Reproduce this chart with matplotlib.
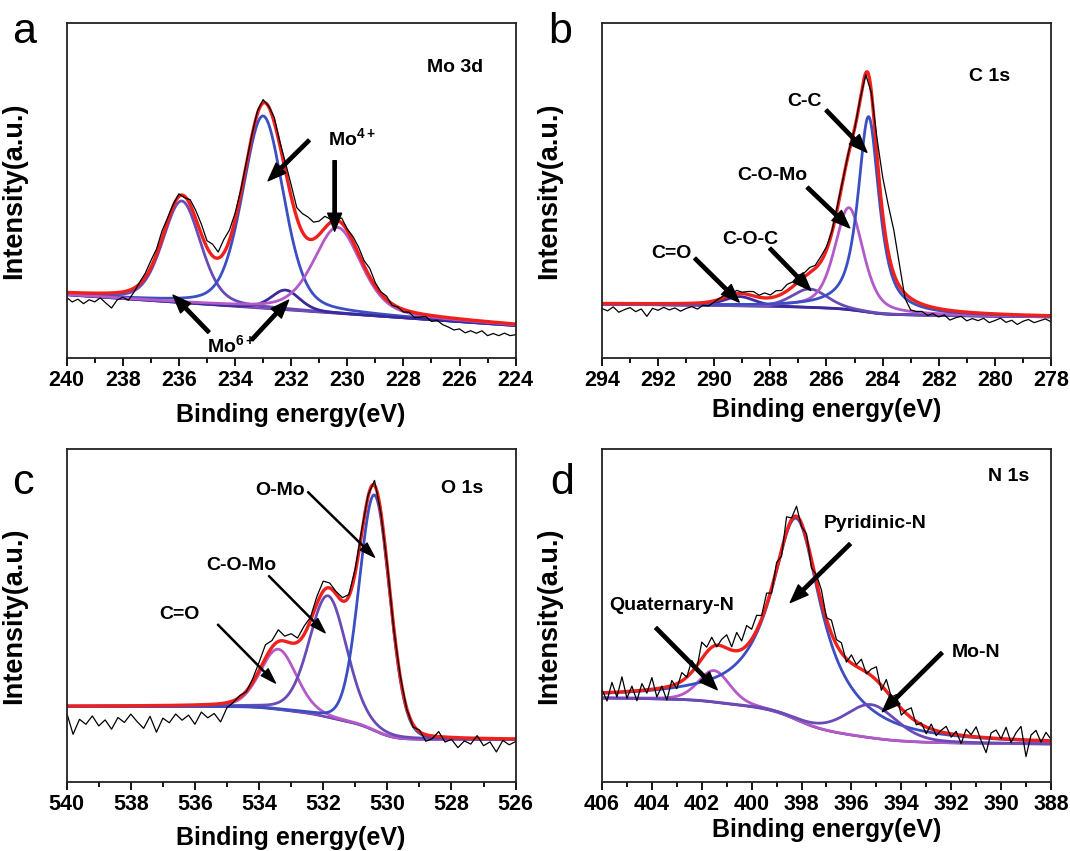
import numpy as np
import matplotlib
matplotlib.use('Agg')
import matplotlib.pyplot as plt
from matplotlib.ticker import MultipleLocator

plt.rcParams['font.family'] = ['Liberation Sans', 'DejaVu Sans']
plt.rcParams['font.weight'] = 'bold'
plt.rcParams['mathtext.fontset'] = 'custom'
plt.rcParams['mathtext.rm'] = 'Liberation Sans:bold'
plt.rcParams['mathtext.bf'] = 'Liberation Sans:bold'

# colours of the fit components
RED = '#f0201c'
BLUE = '#3b4fc3'
PURPLE = '#6a4bb5'
MAGENTA = '#b45ac8'
NAVY = '#3b2a9c'

# ---- panel a: Mo 3d ----
a_range = (240, 224)
a_base = (18.8, 9.6, 0.0)            # baseline at high BE, at low BE, shirley weight
a_centers = [235.9, 233.0, 232.2, 230.35]
a_heights = [30.4, 57.5, 5.9, 25.7]
a_fwhm = [1.6, 1.72, 1.2, 2.0]
a_eta = [0.3, 0.3, 0.3, 0.4]
a_colors = [PURPLE, BLUE, NAVY, MAGENTA]
a_resid = [-1.5, -2.8, -1.9, -3.2, -2.0, -2.6, -1.4, -3.0, -4.5, -2.2,
           -1.6, -2.9, -1.2, 0.5, 1.2, 2.0, 1.5, 2.2, 1.0, 0.5,
           0.8, -0.5, 1.5, 2.5, 3.0, 2.0, 3.5, 1.8, 4.0, 3.0,
           2.0, 1.0, 0.5, 0.2, 0.8, 1.0, 0.2, 1.5, 1.0, 2.5,
           3.5, 3.0, 5.5, 6.5, 5.0, 4.0, 3.5, 1.0, 0.5, 1.5,
           0.5, 1.5, 2.0, 1.5, 2.5, 1.0, 0.5, 1.0, -0.5, 0.0,
           -0.8, -0.3, -1.5, -1.0, -0.6, -1.8, -1.2, -2.3, -2.8, -3.5,
           -3.0, -4.0, -3.2, -3.8, -2.9, -4.2, -3.4, -3.9, -3.0, -3.6,
           -3.2]

# ---- panel b: C 1s ----
b_range = (294, 278)
b_base = (16.0, 12.2, 0.6)
b_centers = [289.1, 286.6, 285.2, 284.5]
b_heights = [2.8, 5.5, 30.5, 58.5]
b_fwhm = [1.3, 1.5, 1.2, 0.9]
b_eta = [0.3, 0.3, 0.5, 0.8]
b_colors = [NAVY, PURPLE, MAGENTA, BLUE]
b_resid = [-1.5, -2.2, -1.0, -2.6, -1.8, -1.2, -2.4, -1.6, -3.8, -1.4,
           -2.0, -1.1, -1.9, -1.3, -2.3, -1.5, -1.0, -1.8, -0.8, -1.2,
           -0.4, 0.3, 0.8, 0.2, 1.0, 0.4, 0.9, 1.3, 0.6, 1.5,
           0.8, 1.7, 1.1, 1.9, 1.4, 2.0, 1.2, 1.6, 0.9, 1.5,
           1.0, 0.4, 0.8, 0.2, 0.5, -0.2, 0.3, -0.5, -0.3, 5.0,
           11.0, 14.0, 13.0, 6.5, -1.5, -3.5, -3.0, -2.2, -2.8, -1.9,
           -2.5, -1.6, -2.9, -2.0, -1.4, -2.6, -1.8, -2.3, -1.5, -2.7,
           -2.0, -1.2, -2.4, -1.7, -2.9, -1.9, -1.3, -2.2, -1.6, -1.0,
           -1.8]

# ---- panel c: O 1s ----
c_range = (540, 526)
c_base = (22.7, 12.7, 1.0)
c_centers = [533.4, 531.85, 530.4]
c_heights = [18.1, 36.5, 70.8]
c_fwhm = [1.33, 1.38, 1.12]
c_eta = [0.2, 0.2, 0.1]
c_colors = [MAGENTA, PURPLE, BLUE]
c_resid = [-2.0, -8.5, -4.0, -5.5, -3.0, -6.0, -4.2, -7.0, -3.5, -5.0,
           -2.5, -4.8, -6.8, -3.2, -8.0, -3.8, -5.2, -2.6, -4.5, -3.0,
           -5.8, -2.2, -4.0, -2.8, -5.5, -1.5, -0.5, 0.5, -0.2, 1.0,
           2.5, 4.0, 2.0, 3.5, 1.5, 2.8, 1.2, 2.5, 1.0, 2.2,
           3.0, 1.5, 0.8, 1.0, 0.5, 1.2, 1.0, 0.5, 1.5, -0.3,
           0.4, -0.5, 0.3, -0.2, -0.8, 0.5, -2.0, -0.8, 1.5, -1.5,
           -0.6, -3.0, -0.9, -1.8, 0.8, -2.2, -1.0, -4.0, -0.5, -1.8,
           -0.8]

# ---- panel d: N 1s ----
d_range = (406, 388)
d_base = (25.2, 11.4, 1.0)
d_centers = [401.5, 398.2, 395.2]
d_heights = [9.5, 60.5, 10.0]
d_fwhm = [1.5, 2.45, 2.4]
d_eta = [0.3, 1.0, 0.3]
d_colors = [MAGENTA, BLUE, PURPLE]
d_resid = [1.0, -2.5, 3.0, -1.5, 4.5, -2.0, 1.5, -3.0, 2.0, -1.0,
           3.5, -2.5, 0.5, -4.0, 1.5, -1.5, 2.5, 0.0, 3.5, -1.0,
           5.0, 1.5, 3.0, -0.5, 2.0, 4.0, 1.0, 5.5, 2.5, 6.0,
           3.0, 4.5, 1.0, 3.5, -1.5, 2.0, -2.0, 4.5, 0.5, 3.0,
           -1.0, 1.5, -2.5, 2.0, 3.5, 0.5, 4.0, 1.5, 3.0, -1.0,
           2.5, 0.5, 3.0, -0.5, 2.0, 4.0, -1.5, 3.5, 0.0, 2.5,
           -2.0, 1.0, 3.0, -1.0, 0.5, -2.0, 1.5, -1.5, 0.5, 2.0,
           -1.0, 1.0, -2.5, 2.0, 0.5, 3.0, -1.0, -4.5, 1.5, 2.5,
           0.0, 3.5, -1.0, 2.0, 4.0, -5.0, 1.5, 3.0, -0.5, 2.5,
           0.5]


def pseudo_voigt(E, c, h, w, eta):
    u = (E - c) / w
    return h * (eta / (1 + 4 * u ** 2) + (1 - eta) * np.exp(-4 * np.log(2) * u ** 2))


def draw_panel(ax, erange, base, centers, heights, fwhm, eta, colors, resid):
    hi, lo = erange
    n = int(round((hi - lo) / 0.01)) + 1
    E = hi - 0.01 * np.arange(n)
    peaks = [pseudo_voigt(E, c, h, w, e) for c, h, w, e in zip(centers, heights, fwhm, eta)]
    total = np.sum(peaks, axis=0)
    frac = np.cumsum(total[::-1])[::-1]
    frac = frac / frac[0]
    lin = (E - lo) / (hi - lo)
    b_hi, b_lo, s = base
    bg = b_lo + (b_hi - b_lo) * (s * frac + (1 - s) * lin)

    ax.plot(E, bg, color=NAVY, lw=1.8)
    ax.plot(E, bg, color=MAGENTA, lw=1.2, alpha=0.7)
    for p, col in zip(peaks, colors):
        ax.plot(E, bg + p, color=col, lw=2.0)
    ax.plot(E, bg + total, color=RED, lw=2.4)
    ax.plot(E[::20], bg[::20] + total[::20] + np.array(resid), color='black', lw=0.9)

    ax.set_xlim(hi, lo)
    ax.set_ylim(0, 100)
    ax.set_yticks([])
    ax.xaxis.set_major_locator(MultipleLocator(2))
    ax.xaxis.set_minor_locator(MultipleLocator(1))
    ax.tick_params(axis='x', which='major', direction='out', length=6, width=1.3,
                   labelsize=15.5, pad=3)
    ax.tick_params(axis='x', which='minor', direction='out', length=3.5, width=1.3)
    for lab in ax.get_xticklabels():
        lab.set_fontweight('bold')
    for sp in ax.spines.values():
        sp.set_linewidth(1.3)
        sp.set_color('#222222')
    ax.set_ylabel('Intensity(a.u.)', fontsize=19.5, fontweight='bold')
    ax.yaxis.set_label_coords(-0.088, 0.5)
    ax.set_xlabel('Binding energy(eV)', fontsize=18, fontweight='bold')


def arrow(ax, head, tail, w=2.4, hw=10, hl=13):
    ax.annotate('', xy=head, xytext=tail,
                arrowprops=dict(facecolor='black', edgecolor='black', width=w,
                                headwidth=hw, headlength=hl, shrink=0))


fig = plt.figure(figsize=(10.7, 8.51), dpi=100)
ax_a = fig.add_axes([0.0623, 0.5797, 0.4196, 0.3930])
ax_b = fig.add_axes([0.5626, 0.5797, 0.4196, 0.3930])
ax_c = fig.add_axes([0.0623, 0.0811, 0.4196, 0.3913])
ax_d = fig.add_axes([0.5626, 0.0811, 0.4196, 0.3913])

draw_panel(ax_a, a_range, a_base, a_centers, a_heights, a_fwhm, a_eta, a_colors, a_resid)
draw_panel(ax_b, b_range, b_base, b_centers, b_heights, b_fwhm, b_eta, b_colors, b_resid)
draw_panel(ax_c, c_range, c_base, c_centers, c_heights, c_fwhm, c_eta, c_colors, c_resid)
draw_panel(ax_d, d_range, d_base, d_centers, d_heights, d_fwhm, d_eta, d_colors, d_resid)

ax_a.xaxis.set_label_coords(0.5, -0.135)
ax_b.xaxis.set_label_coords(0.5, -0.12)
ax_c.xaxis.set_label_coords(0.5, -0.132)
ax_d.xaxis.set_label_coords(0.5, -0.108)

TXT = 14

# panel a annotations
ax_a.text(0.866, 0.867, 'Mo 3d', transform=ax_a.transAxes, fontsize=TXT, ha='center', va='center')
ax_a.text(230.7, 65.5, 'Mo$^{4+}$', fontsize=TXT, ha='left', va='center')
arrow(ax_a, (232.82, 52.9), (231.36, 65.0))
arrow(ax_a, (230.45, 37.8), (230.45, 58.9))
ax_a.text(234.13, 3.6, 'Mo$^{6+}$', fontsize=TXT, ha='center', va='center')
arrow(ax_a, (236.21, 18.7), (234.93, 7.6))
arrow(ax_a, (232.09, 17.2), (233.40, 5.4))

# panel b annotations
ax_b.text(0.863, 0.84, 'C 1s', transform=ax_b.transAxes, fontsize=TXT, ha='center', va='center')
ax_b.text(286.78, 76.5, 'C-C', fontsize=TXT, ha='center', va='center')
arrow(ax_b, (284.56, 61.4), (286.01, 74.0))
ax_b.text(287.93, 54.4, 'C-O-Mo', fontsize=TXT, ha='center', va='center')
arrow(ax_b, (285.17, 38.8), (286.68, 50.9))
ax_b.text(288.72, 35.2, 'C-O-C', fontsize=TXT, ha='center', va='center')
arrow(ax_b, (286.56, 20.1), (288.02, 32.7))
ax_b.text(291.54, 31.2, 'C=O', fontsize=TXT, ha='center', va='center')
arrow(ax_b, (289.11, 16.6), (290.69, 29.7))

# panel c annotations
ax_c.text(0.88, 0.881, 'O 1s', transform=ax_c.transAxes, fontsize=TXT, ha='center', va='center')
ax_c.text(533.36, 87.6, 'O-Mo', fontsize=TXT, ha='center', va='center')
arrow(ax_c, (530.40, 67.5), (532.48, 87.1), w=0.8, hw=7, hl=11)
ax_c.text(534.55, 65.0, 'C-O-Mo', fontsize=TXT, ha='center', va='center')
arrow(ax_c, (531.94, 44.8), (533.70, 61.9), w=0.8, hw=7, hl=11)
ax_c.text(536.49, 50.4, 'C=O', fontsize=TXT, ha='center', va='center')
arrow(ax_c, (533.49, 29.7), (535.29, 47.3), w=0.8, hw=7, hl=11)

# panel d annotations
ax_d.text(0.905, 0.916, 'N 1s', transform=ax_d.transAxes, fontsize=TXT, ha='center', va='center')
ax_d.text(395.04, 77.5, 'Pyridinic-N', fontsize=TXT, ha='center', va='center')
arrow(ax_d, (398.45, 53.9), (396.05, 71.5))
ax_d.text(403.2, 52.9, 'Quaternary-N', fontsize=TXT, ha='center', va='center')
arrow(ax_d, (401.38, 27.7), (403.84, 46.3))
ax_d.text(391.0, 38.8, 'Mo-N', fontsize=TXT, ha='center', va='center')
arrow(ax_d, (394.76, 21.1), (392.37, 38.8))

# panel letters
for x, y, s in [(0.011, 0.9495, 'a'), (0.512, 0.9495, 'b'), (0.011, 0.4195, 'c'), (0.514, 0.4195, 'd')]:
    fig.text(x, y, s, fontsize=31, fontweight='normal', va='baseline', ha='left')

fig.savefig('out.png', dpi=100)
